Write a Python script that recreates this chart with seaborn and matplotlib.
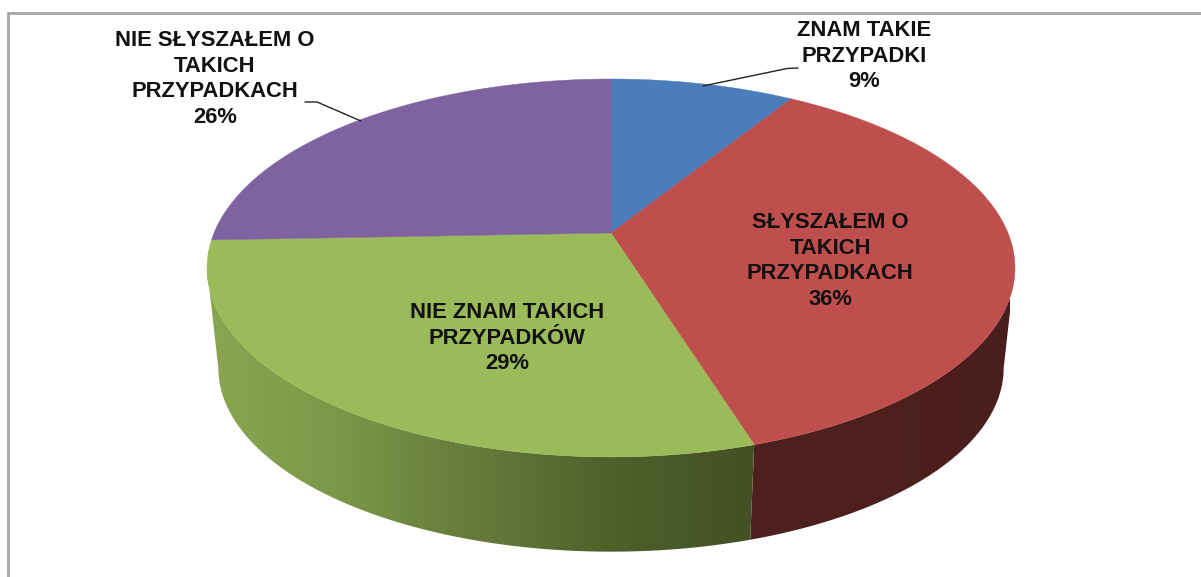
import numpy as np
import seaborn as sns
import matplotlib.pyplot as plt
from matplotlib.patches import Polygon

categories = ['ZNAM TAKIE\nPRZYPADKI', 'SŁYSZAŁEM O\nTAKICH\nPRZYPADKACH',
              'NIE ZNAM TAKICH\nPRZYPADKÓW', 'NIE SŁYSZAŁEM O\nTAKICH\nPRZYPADKACH']
values = [8.8, 36.4, 29.2, 25.6]
percent_labels = ['9%', '36%', '29%', '26%']
colors = ['#4A7DBA', '#BE4F4C', '#9BBA59', '#7F63A1']

sns.set_theme(style='white')
plt.rcParams['font.family'] = ['Liberation Sans', 'DejaVu Sans']

# perspective of the tilted disc, in pixels of the picture
CX, CY = 611, 233
RX, RY, K = 397, 182.5, 0.185
DROP, SHRINK = 101, 0.972


def project(theta, drop=0, scale=1.0):
    u, v = np.sin(theta), np.cos(theta)
    w = 1 + K * v
    return CX + scale * RX * u / w, CY + drop - scale * RY * v / w


fig = plt.figure(figsize=(12.01, 5.77), dpi=100)
ax = fig.add_axes([0, 0, 1, 1])

# chart frame, open to the right and bottom
ax.plot([8, 8, 1201], [577, 13, 13], color='#A6A6A6', lw=2, solid_joinstyle='miter')

edges = np.radians(np.concatenate([[0], np.cumsum(values)]) / sum(values) * 360)

# side wall: gradient images clipped to the visible part of each slice
green_wall = sns.blend_palette(['#8BA652', '#7A9647', '#64793A', '#4D5F2A', '#434F24'], 256)
red_wall = sns.blend_palette(['#4F211E', '#4A1E1C'], 256)
side_right = np.arccos(-K)
side_left = 2 * np.pi - np.arccos(-K)
wall_spans = [(side_right, edges[2], red_wall, (750, 1010)),
              (edges[2], side_left, green_wall, (205, 760))]
for t0, t1, pal, (xa, xb) in wall_spans:
    ts = np.linspace(t0, t1, 300)
    tx, ty = project(ts)
    bx, by = project(ts[::-1], DROP, SHRINK)
    poly = Polygon(np.c_[np.r_[tx, bx], np.r_[ty, by]], closed=True, fc='none', ec='none',
                   transform=ax.transData)
    ax.add_patch(poly)
    grad = ax.imshow(np.array(pal)[None, :, :], extent=(xa, xb, 560, 240), aspect='auto',
                     interpolation='bilinear', zorder=2)
    grad.set_clip_path(poly)

# top of the pie
for i in range(len(values)):
    ts = np.linspace(edges[i], edges[i + 1], 200)
    xs, ys = project(ts)
    ax.fill(np.r_[CX, xs], np.r_[CY, ys], color=colors[i], lw=0.3, zorder=3)

# leader lines
ax.plot([798, 787, 703], [68, 68.5, 86], color='#222222', lw=1, zorder=4)
ax.plot([305, 317, 361], [102, 102, 121], color='#222222', lw=1, zorder=4)

label_pos = [(864, 56), (830, 261), (507, 338), (215, 79)]
for name, pct, (x, y) in zip(categories, percent_labels, label_pos):
    ax.text(x, y, name + '\n' + pct, ha='center', va='center', multialignment='center',
            fontsize=15.8, fontweight='bold', color='#111111', linespacing=1.28, zorder=5)

ax.set_xlim(0, 1201)
ax.set_ylim(577, 0)
ax.axis('off')

fig.savefig('out.png', dpi=100)
